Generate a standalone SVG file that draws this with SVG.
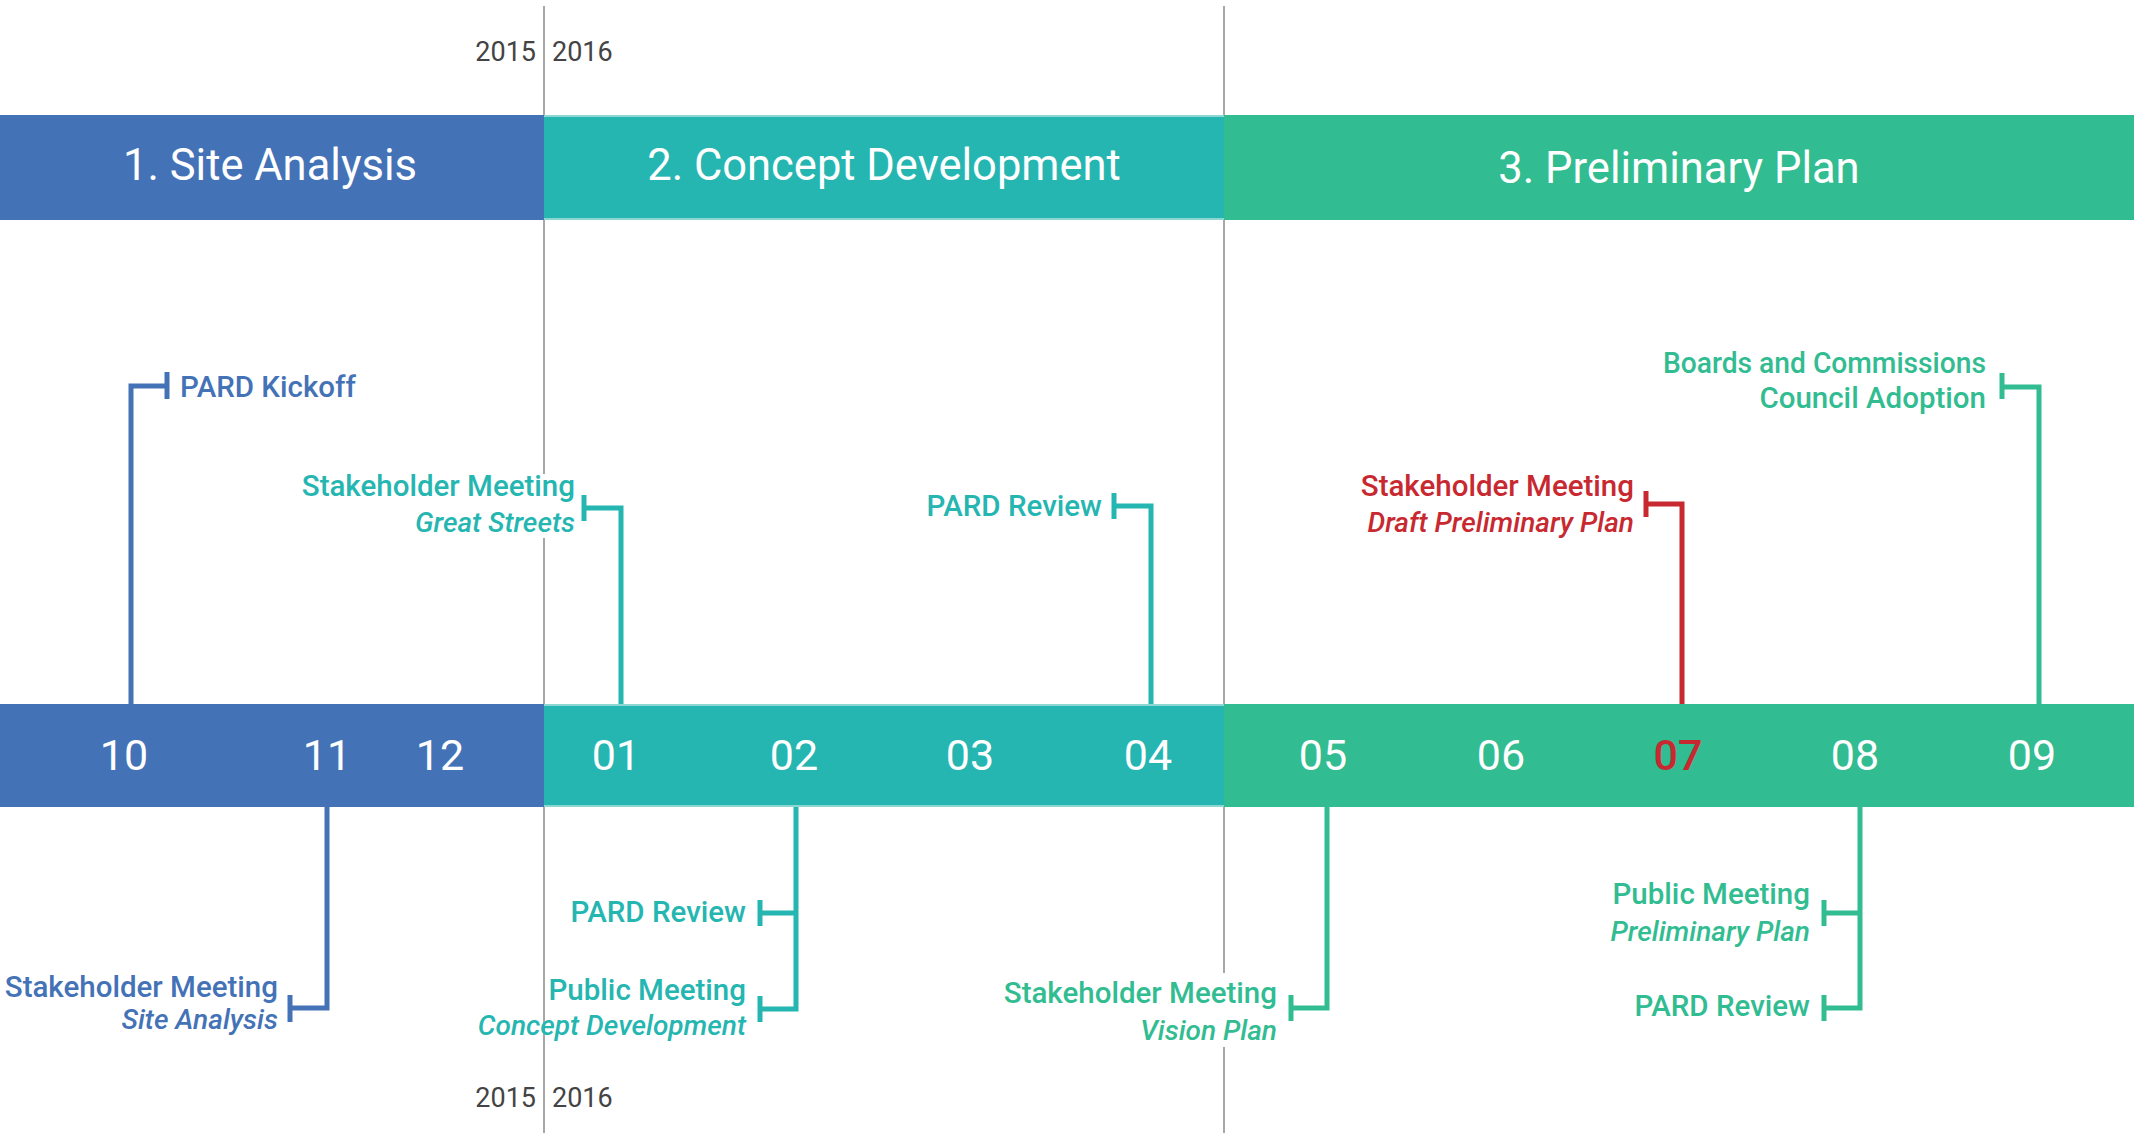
<svg xmlns="http://www.w3.org/2000/svg" width="2134" height="1133" viewBox="0 0 2134 1133">
<style>
.yr{font-family:Roboto,"Liberation Sans",sans-serif;font-size:27px;fill:#444}
.ttl{font-family:Roboto,"Liberation Sans",sans-serif;font-size:43.5px;font-weight:400;fill:#fff;text-anchor:middle}
.mo{font-family:Roboto,"Liberation Sans",sans-serif;font-size:43px;font-weight:400;fill:#fff;text-anchor:middle}
.lb{font-family:Roboto,"Liberation Sans",sans-serif;font-size:29.5px;font-weight:500}
.it{font-style:italic;font-size:28px}
.end{text-anchor:end}
.blue{fill:#4472B7}.teal{fill:#25B6B1}.green{fill:#32BC91}.red{fill:#C8282F}
.cb{stroke:#4472B7}.ct{stroke:#25B6B1}.cg{stroke:#32BC91}.cr{stroke:#C8282F}
#connectors path{fill:none;stroke-width:5}
.grid{stroke:#8a8a8a;stroke-width:1.5}
</style>
<rect width="2134" height="1133" fill="#fff"/>
<g id="gridlines">
<line class="grid" x1="544" y1="6" x2="544" y2="1133"/>
<line class="grid" x1="1224" y1="6" x2="1224" y2="1133"/>
</g>
<g id="years">
<text class="yr" x="536" y="61" text-anchor="end">2015</text>
<text class="yr" x="552" y="61">2016</text>
<text class="yr" x="536" y="1107" text-anchor="end">2015</text>
<text class="yr" x="552" y="1107">2016</text>
</g>
<g id="phase1">
<rect x="0" y="115" width="544" height="105" fill="#4472B7"/>
<text class="ttl" x="270" y="180">1. Site Analysis</text>
</g>
<g id="phase2">
<rect x="544" y="115" width="680" height="105" fill="#25B6B1"/>
<line x1="544" y1="116" x2="1224" y2="116" stroke="#8ED6D3" stroke-width="2"/>
<line x1="544" y1="219" x2="1224" y2="219" stroke="#8ED6D3" stroke-width="2"/>
<text class="ttl" x="884" y="180">2. Concept Development</text>
</g>
<g id="phase3">
<rect x="1224" y="115" width="910" height="105" fill="#32BC91"/>
<text class="ttl" x="1679" y="183">3. Preliminary Plan</text>
</g>
<g id="months">
<rect x="0" y="704" width="544" height="103" fill="#4472B7"/>
<rect x="544" y="704" width="680" height="103" fill="#25B6B1"/>
<line x1="544" y1="705" x2="1224" y2="705" stroke="#8ED6D3" stroke-width="2"/>
<line x1="544" y1="806" x2="1224" y2="806" stroke="#8ED6D3" stroke-width="2"/>
<rect x="1224" y="704" width="910" height="103" fill="#32BC91"/>
<text class="mo" x="124" y="770">10</text>
<text class="mo" x="327" y="770">11</text>
<text class="mo" x="440" y="770">12</text>
<text class="mo" x="616" y="770">01</text>
<text class="mo" x="794" y="770">02</text>
<text class="mo" x="970" y="770">03</text>
<text class="mo" x="1148" y="770">04</text>
<text class="mo" x="1323" y="770">05</text>
<text class="mo" x="1501" y="770">06</text>
<text class="mo" x="1678" y="770" style="fill:#C8282F;font-weight:500">07</text>
<text class="mo" x="1855" y="770">08</text>
<text class="mo" x="2032" y="770">09</text>
</g>
<g id="connectors">
<path class="cb" d="M131 704 V386 H167"/>
<path class="cb" d="M167 372 V399"/>
<path class="ct" d="M621 704 V508 H584"/>
<path class="ct" d="M584 495 V521"/>
<path class="ct" d="M1151 704 V506 H1114"/>
<path class="ct" d="M1114 493 V519"/>
<path class="cr" d="M1682 704 V504 H1646"/>
<path class="cr" d="M1646 491 V517"/>
<path class="cg" d="M2039 704 V387 H2002"/>
<path class="cg" d="M2002 373 V399"/>
<path class="cb" d="M327 807 V1008 H290"/>
<path class="cb" d="M290 995 V1022"/>
<path class="ct" d="M796 807 V1009 H760 M796 913 H760"/>
<path class="ct" d="M760 900 V926 M760 996 V1022"/>
<path class="cg" d="M1327 807 V1008 H1291"/>
<path class="cg" d="M1291 995 V1021"/>
<path class="cg" d="M1860 807 V1008 H1824 M1860 913 H1824"/>
<path class="cg" d="M1824 900 V926 M1824 995 V1021"/>
</g>
<g id="pard-kickoff">
<text class="lb blue" x="180" y="397">PARD Kickoff</text>
</g>
<g id="stakeholder-great-streets">
<rect x="298" y="474" width="280" height="64" fill="#fff"/>
<text class="lb teal end" x="575" y="496">Stakeholder Meeting</text>
<text class="lb teal end it" x="575" y="532">Great Streets</text>
</g>
<g id="pard-review-04">
<text class="lb teal end" x="1102" y="516">PARD Review</text>
</g>
<g id="stakeholder-draft">
<text class="lb red end" x="1634" y="496">Stakeholder Meeting</text>
<text class="lb red end it" x="1634" y="532">Draft Preliminary Plan</text>
</g>
<g id="boards-council">
<text class="lb green end" x="1986" y="373" textLength="323" lengthAdjust="spacingAndGlyphs">Boards and Commissions</text>
<text class="lb green end" x="1986" y="408">Council Adoption</text>
</g>
<g id="stakeholder-site">
<text class="lb blue end" x="278" y="997">Stakeholder Meeting</text>
<text class="lb blue end it" x="278" y="1029">Site Analysis</text>
</g>
<g id="pard-review-02">
<text class="lb teal end" x="746" y="922">PARD Review</text>
</g>
<g id="public-concept">
<text class="lb teal end" x="746" y="1000">Public Meeting</text>
<text class="lb teal end it" x="746" y="1035">Concept Development</text>
</g>
<g id="stakeholder-vision">
<rect x="1000" y="973" width="280" height="74" fill="#fff"/>
<text class="lb green end" x="1277" y="1003">Stakeholder Meeting</text>
<text class="lb green end it" x="1277" y="1040">Vision Plan</text>
</g>
<g id="public-preliminary">
<text class="lb green end" x="1810" y="904">Public Meeting</text>
<text class="lb green end it" x="1810" y="941">Preliminary Plan</text>
</g>
<g id="pard-review-08">
<text class="lb green end" x="1810" y="1016">PARD Review</text>
</g>
</svg>
